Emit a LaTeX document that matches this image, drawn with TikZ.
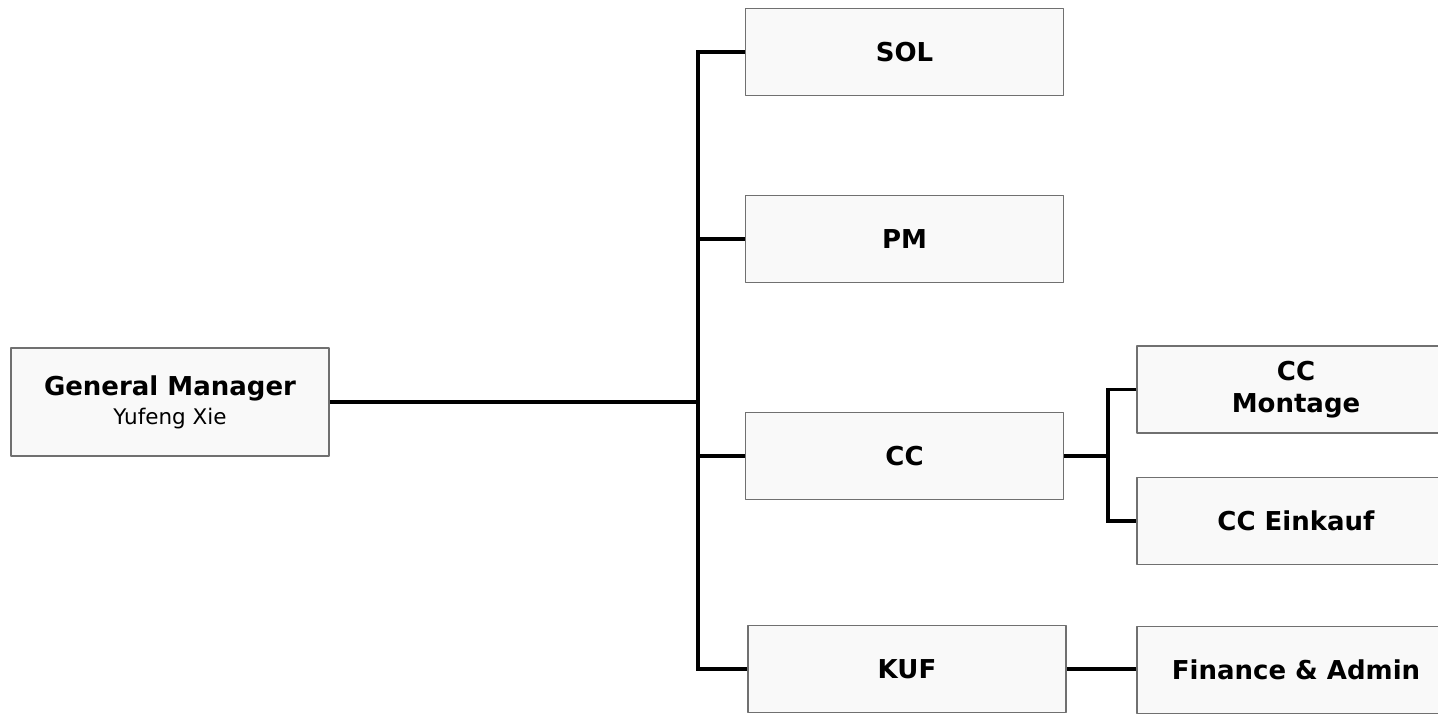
\documentclass[tikz,border=0pt]{standalone}
\usepackage{fontspec}
\setmainfont{DejaVu Sans}
\definecolor{boxfill}{HTML}{F9F9F9}
\definecolor{boxline}{HTML}{707070}
\tikzset{
  orgbox/.style={draw=boxline,line width=1.5bp,fill=boxfill,minimum width=318bp,minimum height=87bp,inner sep=0pt,align=center,font=\fontsize{26bp}{32bp}\selectfont\bfseries},
  conn/.style={black,line width=3.2bp,line join=miter},
}
\begin{document}
\begin{tikzpicture}[line join=bevel,]
\useasboundingbox (0bp,0bp) rectangle (1438bp,-714bp);
%%
\node (node_gm) at (170.0bp,-402.0bp) [orgbox,minimum height=108bp] {General Manager\\[-3bp]{\fontsize{21.5bp}{24bp}\selectfont\mdseries Yufeng Xie}};
  \node (node_sol) at (904.5bp,-52.0bp) [orgbox] {SOL};
  \node (node_pm) at (904.5bp,-239.0bp) [orgbox] {PM};
  \node (node_cc) at (904.5bp,-456.0bp) [orgbox] {CC};
  \node (node_kuf) at (907.0bp,-669.0bp) [orgbox] {KUF};
  \node (node_ccm) at (1296.0bp,-389.5bp) [orgbox] {CC\\Montage};
  \node (node_cce) at (1296.0bp,-521.0bp) [orgbox] {CC Einkauf};
  \node (node_fa) at (1296.0bp,-670.0bp) [orgbox] {Finance \& Admin};
%%
\coordinate (fork_sol) at (698.0bp,-52.0bp);
  \coordinate (fork_pm) at (698.0bp,-239.0bp);
  \coordinate (fork_gm) at (698.0bp,-402.0bp);
  \coordinate (fork_cc) at (698.0bp,-456.0bp);
  \coordinate (fork_kuf) at (698.0bp,-669.0bp);
  \coordinate (fork_ccm) at (1108.0bp,-389.5bp);
  \coordinate (fork_mid) at (1108.0bp,-456.0bp);
  \coordinate (fork_cce) at (1108.0bp,-521.0bp);
%%
\draw [conn] (node_gm.east) -- (fork_gm);
  \draw [conn] (node_sol.west) -- (fork_sol) -- (fork_kuf) -- (node_kuf.west);
  \draw [conn] (fork_pm) -- (node_pm.west);
  \draw [conn] (fork_cc) -- (node_cc.west);
  \draw [conn] (node_cc.east) -- (fork_mid);
  \draw [conn] (node_ccm.west) -- (fork_ccm) -- (fork_cce) -- (node_cce.west);
  \draw [conn] (node_kuf.east) -- (node_kuf.east -| node_fa.west);
%
\end{tikzpicture}
\end{document}
